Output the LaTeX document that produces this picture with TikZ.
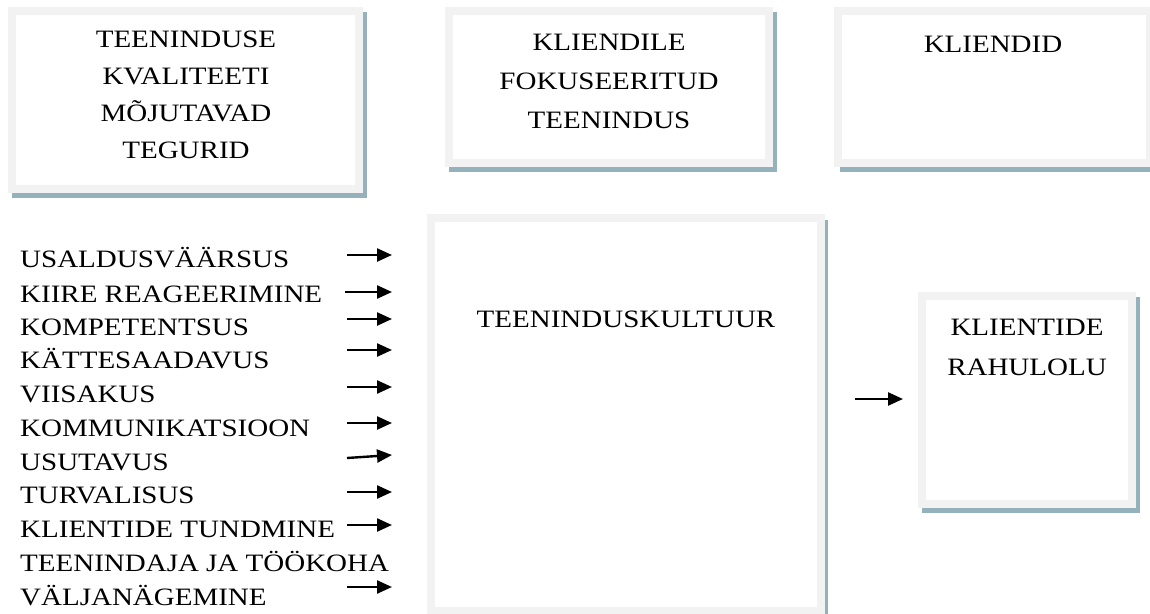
\documentclass[tikz,border=0pt]{standalone}
\usepackage{fontspec}
\setmainfont{Liberation Serif}[FakeStretch=1.16]
\usetikzlibrary{arrows.meta}

\definecolor{framegray}{RGB}{242,242,242}
\definecolor{shadowblue}{RGB}{148,177,188}

\tikzset{
  panel/.style={draw=framegray, line width=8pt, fill=white, inner sep=0pt},
  panelshadow/.style={fill=shadowblue},
  % multi-line nodes sit on the baseline of their last line
  heading/.style={inner sep=0pt, align=center, anchor=base},
  factor/.style={inner sep=0pt, align=left, anchor=base west,
    font=\fontsize{25}{33.5}\selectfont},
  feed/.style={-{Triangle[length=15pt,width=13pt]}, line width=2.4pt},
}

\begin{document}
\begin{tikzpicture}[x=1pt, y=-1pt]
  \useasboundingbox (0,0) rectangle (1150,613);
  \clip (0,0) rectangle (1150,613);

  % shadows behind the panels
  \fill[panelshadow] (12,12) rectangle (367,198);
  \fill[panelshadow] (449,12) rectangle (777,172);
  \fill[panelshadow] (840,12) rectangle (1160,172);
  \fill[panelshadow] (432,220) rectangle (828,625);
  \fill[panelshadow] (922,297) rectangle (1140,513);

  % panels
  \node[panel, minimum width=347pt, minimum height=178pt] (quality) at (185.5,100) {};
  \node[panel, minimum width=320pt, minimum height=152pt] (focus) at (609,87) {};
  \node[panel, minimum width=312pt, minimum height=152pt] (clients) at (994,87) {};
  \node[panel, minimum width=390pt, minimum height=393pt] (culture) at (626,414.5) {};
  \node[panel, minimum width=210pt, minimum height=208pt] (satisfaction) at (1027,400) {};

  % panel headings
  \node[heading, font=\fontsize{25}{36.7}\selectfont] (qualitytext) at (186,158)
    {TEENINDUSE\\KVALITEETI\\MÕJUTAVAD\\TEGURID};
  \node[heading, font=\fontsize{25}{39}\selectfont] (focustext) at (609,128)
    {KLIENDILE\\FOKUSEERITUD\\TEENINDUS};
  \node[heading, font=\fontsize{25}{30}\selectfont] (clientstext) at (993,52) {KLIENDID};
  \node[heading, font=\fontsize{25}{30}\selectfont] (culturetext) at (626,327) {TEENINDUSKULTUUR};
  \node[heading, font=\fontsize{25}{40}\selectfont] (satisfactiontext) at (1027,375)
    {KLIENTIDE\\RAHULOLU};

  % quality factors
  \node[factor] (f1) at (20,267) {USALDUSVÄÄRSUS};
  \node[factor] (f2) at (20,302) {KIIRE REAGEERIMINE};
  \node[factor] (f3) at (20,335) {KOMPETENTSUS};
  \node[factor] (f4) at (20,368) {KÄTTESAADAVUS};
  \node[factor] (f5) at (20,402) {VIISAKUS};
  \node[factor] (f6) at (20,436) {KOMMUNIKATSIOON};
  \node[factor] (f7) at (20,470) {USUTAVUS};
  \node[factor] (f8) at (20,503) {TURVALISUS};
  \node[factor] (f9) at (20,537) {KLIENTIDE TUNDMINE};
  \node[factor] (f10) at (20,605) {TEENINDAJA JA TÖÖKOHA\\VÄLJANÄGEMINE};

  % arrow ends
  \coordinate (a1) at (347,255);   \coordinate (b1) at (392,255);
  \coordinate (a2) at (345,292);   \coordinate (b2) at (392,292);
  \coordinate (a3) at (347,319);   \coordinate (b3) at (392,319);
  \coordinate (a4) at (347,350);   \coordinate (b4) at (392,350);
  \coordinate (a5) at (347,387);   \coordinate (b5) at (392,387);
  \coordinate (a6) at (347,423);   \coordinate (b6) at (392,423);
  \coordinate (a7) at (347,458);   \coordinate (b7) at (392,455);
  \coordinate (a8) at (347,492);   \coordinate (b8) at (392,492);
  \coordinate (a9) at (347,525);   \coordinate (b9) at (392,525);
  \coordinate (a10) at (347,587);  \coordinate (b10) at (392,587);
  \coordinate (c1) at (855,399);   \coordinate (c2) at (903,399);

  \foreach \i in {1,...,10} {
    \draw[feed] (a\i) -- (b\i);
  }
  \draw[feed] (c1) -- (c2);
\end{tikzpicture}
\end{document}
